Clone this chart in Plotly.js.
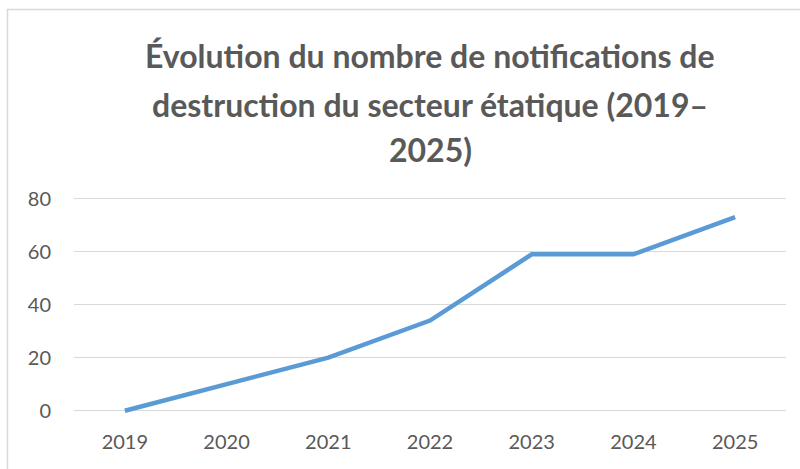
<!DOCTYPE html>
<html>
<head>
<meta charset="utf-8">
<script src="https://cdn.plot.ly/plotly-3.0.1.min.js"></script>
<style>html,body{margin:0;padding:0;background:#fff;}#chart{width:800px;height:469px;}</style>
</head>
<body>
<div id="chart"></div>
<script>
const years = ["2019", "2020", "2021", "2022", "2023", "2024", "2025"];
const notifications = [0, 10, 20, 34, 59, 59, 73];
const yTicks = [0, 20, 40, 60, 80];
const titleLines = [
  "Évolution du nombre de notifications de",
  "destruction du secteur étatique (2019–",
  "2025)"
];

const W = 800, H = 469;
const margin = {l: 74, r: 14, t: 196, b: 53};
const plotH = H - margin.t - margin.b;
const plotW = W - margin.l - margin.r;
const py = p => (H - margin.b - p) / plotH;
const px = p => (p - margin.l) / plotW;

const titleY = [55, 104, 149];
const annotations = titleLines.map((t, i) => ({
  text: t, xref: 'paper', yref: 'paper', x: px(430), y: py(titleY[i]),
  xanchor: 'center', yanchor: 'middle', showarrow: false,
  font: {family: 'Lato, sans-serif', size: 32, color: '#595959', weight: 'bold'}
}));

const trace = {
  x: years, y: notifications, type: 'scatter', mode: 'lines',
  line: {color: '#5B9BD5', width: 4.5}, hoverinfo: 'skip'
};

const layout = {
  width: W, height: H, margin: margin,
  paper_bgcolor: '#fff', plot_bgcolor: '#fff',
  showlegend: false,
  font: {family: 'Lato, sans-serif', color: '#595959', size: 20},
  xaxis: {type: 'category', range: [-0.5, 6.5], showgrid: false, zeroline: false, showline: false,
          ticks: '', tickfont: {size: 20, color: '#595959'}, ticklabelstandoff: 12},
  yaxis: {range: [-2, 81], tickvals: yTicks, showgrid: true, gridcolor: '#d9d9d9', gridwidth: 1.5,
          zeroline: false, showline: false, ticks: '', tickfont: {size: 20, color: '#595959'},
          ticklabelstandoff: 22},
  annotations: annotations,
  shapes: [{type: 'rect', xref: 'paper', yref: 'paper', x0: px(7.5), x1: px(805), y0: py(475), y1: py(9.5),
            line: {color: '#d9d9d9', width: 1.5}, fillcolor: 'rgba(0,0,0,0)', layer: 'below'}]
};

Plotly.newPlot('chart', [trace], layout, {staticPlot: true, displayModeBar: false});
</script>
</body>
</html>
